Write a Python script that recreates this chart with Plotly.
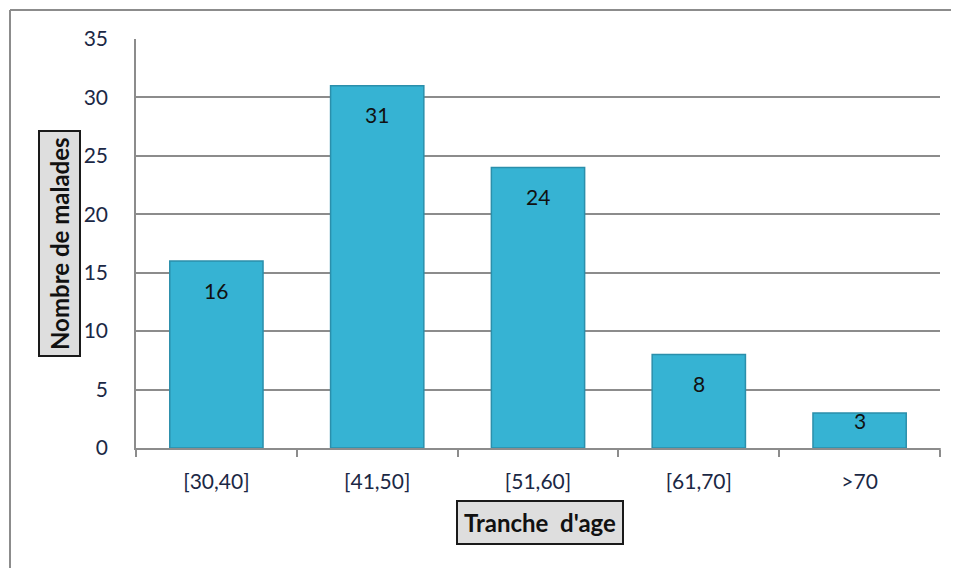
import plotly.graph_objects as go

categories = ["[30,40]", "[41,50]", "[51,60]", "[61,70]", ">70"]
values = [16, 31, 24, 8, 3]
y_ticks = [0, 5, 10, 15, 20, 25, 30, 35]

OFF = 8  # browser body margin
W, H = 959 - OFF, 568 - OFF
L, T = 136 - OFF, 39 - OFF
R = W - (940 - OFF)
B = H - (448 - OFF)
pw, ph = W - L - R, H - T - B

def px(x):
    return (x - OFF - L) / pw

def py(y):
    return (H - B - (y - OFF)) / ph

fig = go.Figure()
fig.add_trace(go.Bar(
    x=categories, y=values,
    marker=dict(color="#36b3d3", line=dict(color="#2b8fab", width=1.5)),
    width=0.58, hoverinfo="x+y",
))

label_annotations = [
    dict(x=c, y=v, xref="x", yref="y", text=str(v), showarrow=False,
         yanchor="middle", xanchor="center", yshift=(-29 if v > 5 else -8),
         font=dict(family="Lato, Open Sans, sans-serif", size=21, color="#111111"))
    for c, v in zip(categories, values)
]

fig.update_layout(
    width=W, height=H,
    margin=dict(l=L, r=R, t=T, b=B),
    paper_bgcolor="white", plot_bgcolor="white",
    showlegend=False,
    font=dict(family="Lato, Open Sans, sans-serif"),
    xaxis=dict(
        type="category", showgrid=False, showline=True, linecolor="#8c8c8c", linewidth=1.5,
        ticks="outside", tickson="boundaries", ticklen=7, tickcolor="#8c8c8c", tickwidth=1.5,
        tickfont=dict(size=21, color="#1b2845"), ticklabelstandoff=14,
    ),
    yaxis=dict(
        range=[0, 35], tickvals=y_ticks, showgrid=True, gridcolor="#8c8c8c", gridwidth=1.5,
        showline=True, linecolor="#8c8c8c", linewidth=1.5, zeroline=False,
        tickfont=dict(size=21, color="#1b2845"), ticklabelstandoff=22, ticks="",
    ),
    shapes=[
        dict(type="line", xref="paper", yref="paper",
             x0=px(10), x1=px(10), y0=py(10), y1=py(580),
             line=dict(color="#8c8c8c", width=2)),
        dict(type="line", xref="paper", yref="paper",
             x0=px(10), x1=px(970), y0=py(10), y1=py(10),
             line=dict(color="#8c8c8c", width=2)),
        dict(type="line", xref="paper", yref="paper", x0=1, x1=1, y0=0, y1=-7 / ph,
             line=dict(color="#8c8c8c", width=1.5)),
    ],
    annotations=label_annotations + [
        dict(text="<b>Nombre de malades</b>", textangle=-90, xref="paper", yref="paper",
             x=px(60), y=py(244), xanchor="center", yanchor="middle", showarrow=False,
             font=dict(size=24, color="#111111"),
             bgcolor="#dedede", bordercolor="#1a1a1a", borderwidth=2, borderpad=5),
        dict(text="<b>Tranche  d'age</b>", xref="paper", yref="paper",
             x=px(540), y=py(522), xanchor="center", yanchor="middle", showarrow=False,
             font=dict(size=24, color="#111111"),
             bgcolor="#dedede", bordercolor="#1a1a1a", borderwidth=2, borderpad=6),
    ],
)

fig.write_html("out.html")
